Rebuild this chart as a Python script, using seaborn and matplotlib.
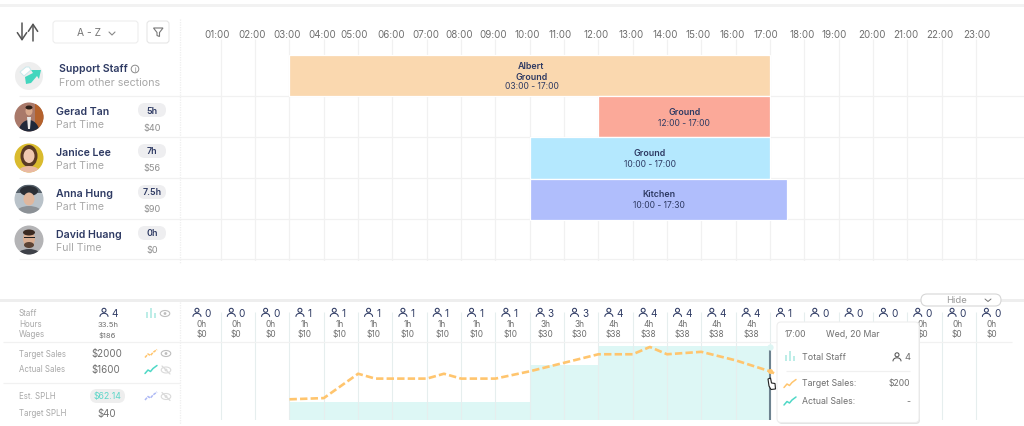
import numpy as np
import pandas as pd
import seaborn as sns
import matplotlib.pyplot as plt
from matplotlib.patches import Circle, Ellipse, FancyBboxPatch, Polygon, Rectangle
from matplotlib.transforms import ScaledTranslation, blended_transform_factory

sns.set_theme(style='white')
plt.rcParams['font.family'] = ['Inter', 'DejaVu Sans']

hour_labels = ['%02d:00' % h for h in range(1, 24)]
hours = list(range(1, 24))

# shifts
shift_rows = [0, 1, 2, 3]
shift_start = [3, 12, 10, 10]
shift_end = [17, 17, 17, 17.5]
shift_colors = ['#FAD8AF', '#FBA999', '#B4E8FE', '#B0BEFC']
shift_titles = ['Albert\nGround', 'Ground', 'Ground', 'Kitchen']
shift_times = ['03:00 - 17:00', '12:00 - 17:00', '10:00 - 17:00', '10:00 - 17:30']

names = ['Gerad Tan', 'Janice Lee', 'Anna Hung', 'David Huang']
contracts = ['Part Time', 'Part Time', 'Part Time', 'Full Time']
staff_hours = ['5h', '7h', '7.5h', '0h']
staff_wages = ['$40', '$56', '$90', '$0']

# per hour table at the bottom
col_staff = [0, 0, 0, 1, 1, 1, 1, 1, 1, 1, 3, 3, 4, 4, 4, 4, 4, 1, 0, 0, 0, 0, 0, 0]
col_hours = ['0h', '0h', '0h', '1h', '1h', '1h', '1h', '1h', '1h', '1h', '3h', '3h',
             '4h', '4h', '4h', '4h', '4h', '', '', '', '', '0h', '0h', '0h']
col_wages = ['$0', '$0', '$0', '$10', '$10', '$10', '$10', '$10', '$10', '$10', '$30', '$30',
             '$38', '$38', '$38', '$38', '$38', '', '', '', '', '$0', '$0', '$0']

# target sales line
target_hour = [3, 4, 5, 5.5, 6, 7, 7.5, 8, 9, 10, 11, 12, 13, 13.5, 14, 15, 16, 17, 17.15]
target_sales = [85, 90, 190, 170, 170, 170, 190, 170, 170, 200, 235, 270, 270, 300, 270, 280, 245, 200, 190]

NAVY = '#2E3A63'
GREY = '#A8A8A8'
MID = '#6F6F6F'
TEAL = '#4FD8C6'
ORANGE = '#FFC56E'
GRID = '#F1F1F1'

W, H = 1024, 427
fig = plt.figure(figsize=(W / 100, H / 100), dpi=100, facecolor='white')


def add_axes_px(x0, y0, x1, y1):
    return fig.add_axes([x0 / W, 1 - y1 / H, (x1 - x0) / W, (y1 - y0) / H])


x_lim = (-0.19, 24.4)

# schedule
ax = add_axes_px(180, 40, 1024, 262)
ax.barh(shift_rows, np.array(shift_end) - np.array(shift_start), left=shift_start, height=1.0,
        color=shift_colors, edgecolor='white', linewidth=0.9, zorder=3)
ax.set_xlim(x_lim)
ax.set_ylim(4.51, -0.9)
ax.set_xticks(hours, hour_labels, fontsize=7, color=MID)
ax.xaxis.tick_top()
ax.tick_params(axis='x', length=0, pad=0)
label_nudge = [-4, -3, -2.5, -2, -4, -1.5, -1, -2, -2.4, -2.7, -4, -2.4, -1.7, -2, -3.3, -3.6,
               -4, -2, -4.6, -1, -1, -1.5, 1]
for lab, dx in zip(ax.get_xticklabels(), label_nudge):
    lab.set_transform(lab.get_transform() + ScaledTranslation(dx / 100, 0, fig.dpi_scale_trans))
ax.set_yticks([])
ax.vlines(hours, 0, 1, transform=ax.get_xaxis_transform(), color=GRID, lw=0.9, zorder=1)
ax.hlines([0.49, 1.49, 2.49, 3.49, 4.47], 0, 1, transform=ax.get_yaxis_transform(), color=GRID, lw=0.9, zorder=1)
sns.despine(ax=ax, left=True, bottom=True, top=True, right=True)

for row, s, e, title, times in zip(shift_rows, shift_start, shift_end, shift_titles, shift_times):
    mid = (s + e) / 2 + (0.05 if row == 0 else 0)
    if row == 0:
        ax.text(mid, row - 0.12, title, ha='center', va='center', fontsize=6.4, fontweight='semibold',
                color=NAVY, zorder=4, linespacing=1.15)
        ax.text(mid, row + 0.24, times, ha='center', va='center', fontsize=6.1, color=NAVY, zorder=4)
    else:
        ax.text(mid, row - 0.14, title, ha='center', va='center', fontsize=6.4, fontweight='semibold',
                color=NAVY, zorder=4)
        ax.text(mid, row + 0.14, times, ha='center', va='center', fontsize=6.1, color=NAVY, zorder=4)

# bottom chart, base of both scales sits at pixel row 421
ax_staff = add_axes_px(180, 313, 1024, 421)
sns.barplot(x=np.arange(17) + 0.5, y=np.array(col_staff[:17]), native_scale=True, orient='x', width=1,
            color='#DDF7F5', saturation=1, linewidth=0, ax=ax_staff, zorder=1)
ax_staff.set_xlim(x_lim)
ax_staff.set_ylim(0, 5.87)
ax_staff.set(xlabel='', ylabel='', xticks=[], yticks=[])
ax_staff.vlines(hours, 0, 1, transform=ax_staff.get_xaxis_transform(), color='#E6EEEE', lw=0.8, zorder=2)
sns.despine(ax=ax_staff, left=True, bottom=True, top=True, right=True)

ax_sales = ax_staff.twinx()
sns.lineplot(x=target_hour, y=target_sales, ax=ax_sales, color=ORANGE, lw=1.9,
             linestyle=(0, (2.8, 1.2)), errorbar=None, sort=False, zorder=3)
ax_sales.set_xlim(x_lim)
ax_sales.set_ylim(0, 443.6)
ax_sales.set(xlabel='', ylabel='', yticks=[])
sns.despine(ax=ax_sales, left=True, bottom=True, top=True, right=True)

# everything else is drawn in pixel space on top
ov = fig.add_axes([0, 0, 1, 1], zorder=10)
ov.set_xlim(0, W)
ov.set_ylim(H, 0)
ov.axis('off')
col_tr = blended_transform_factory(ax_staff.transData, ov.transData)


def txt(x, y, s, size=7, color=MID, ha='left', weight='normal', **kw):
    return ov.text(x, y, s, fontsize=size, color=color, ha=ha, va='center', fontweight=weight, **kw)


def hline(y, x0=0, x1=W, color=GRID, lw=0.9, z=2):
    ov.plot([x0, x1], [y, y], color=color, lw=lw, solid_capstyle='butt', zorder=z)


def pill(x0, y0, x1, y1, color, edge='none', lw=0.8, z=2, r=None):
    rad = (y1 - y0) / 2 if r is None else r
    p = FancyBboxPatch((x0 + rad, y0 + rad), x1 - x0 - 2 * rad, y1 - y0 - 2 * rad,
                       boxstyle='round,pad=%f' % rad, fc=color, ec=edge, lw=lw, zorder=z)
    ov.add_patch(p)
    return p


def person_px(cx, cy, color=NAVY, z=3):
    # head and open shoulders
    ov.add_patch(Circle((cx, cy - 2.2), 2.0, fc='none', ec=color, lw=0.75, zorder=z))
    t = np.linspace(np.pi, 2 * np.pi, 20)
    ov.plot(cx + 4 * np.cos(t), cy + 4 + 3.2 * np.sin(t), color=color, lw=0.75, zorder=z)


def eye(cx, cy, crossed=False, z=3):
    col = '#DADADA' if crossed else '#BDBDBD'
    ov.add_patch(Ellipse((cx, cy), 9.5, 6, fc='none', ec=col, lw=0.8, zorder=z))
    ov.add_patch(Circle((cx, cy), 1.4, fc=col, ec='none', zorder=z))
    if crossed:
        ov.plot([cx - 4, cx + 4], [cy - 4, cy + 4], color=col, lw=0.9, zorder=z)


def spark(cx, cy, color, z=3, lw=1.1, dashed=False):
    xs = np.array([-6, -3, -0.5, 2, 6]) + cx
    ys = np.array([4, 0.5, 2, -1, -4]) + cy
    ov.plot(xs, ys, color=color, lw=lw, zorder=z, ls=(0, (2, 0.6)) if dashed else '-')


def bars_icon(cx, cy, z=3):
    for dx, h in zip([-4, 0, 4], [6, 10, 5]):
        ov.add_patch(Rectangle((cx + dx - 1.4, cy + 5 - h), 2.8, h, fc='#BDEDE7', ec='none', zorder=z))


# page bands
ov.add_patch(Rectangle((0, 5), W, 3, fc='#F2F2F2', ec='none', zorder=1))
ov.add_patch(Rectangle((0, 300), W, 2.6, fc='#EEEEEE', ec='none', zorder=1))
ov.plot([180, 180], [20, 265], color='#EFEFEF', lw=0.9, ls=(0, (1, 1)))
ov.plot([180, 180], [303, 425], color='#EFEFEF', lw=0.9, ls=(0, (1, 1)))

# sort and filter controls
for x, d in [(22, 1), (33, -1)]:
    y0, y1 = (24, 42) if d == 1 else (42, 24)
    ov.annotate('', xy=(x, y1), xytext=(x, y0),
                arrowprops=dict(arrowstyle='->,head_width=0.28,head_length=0.42', color='#555555', lw=1.1,
                                shrinkA=0, shrinkB=0))
pill(53, 22, 138, 44, 'white', edge='#EEEEEE', r=3)
txt(89, 33.5, 'A - Z', 7.4, '#777777', ha='center')
ov.plot([109, 112, 115], [33, 36, 33], color='#888888', lw=0.8, zorder=3)
pill(147, 22, 169, 44, 'white', edge='#E6E6E6', r=3)
ov.add_patch(Polygon([(153.5, 29), (163, 29), (159.5, 33.5), (159.5, 37.5), (157, 36.5), (157, 33.5)],
                     fc='none', ec='#777777', lw=0.8, zorder=3))

# support staff row
ov.add_patch(Circle((29, 77), 14, fc='#EEEEEE', ec='none'))
ov.add_patch(Polygon([(25, 78), (33, 74), (31, 71), (41, 71), (39, 80), (37, 77), (31, 84), (26, 85)],
                     fc='#43D6BE', ec='none', zorder=3))
ov.add_patch(Polygon([(24, 77), (31, 71), (29, 68), (26, 68), (20, 73)], fc='white', ec='#C9E9EC', lw=0.7, zorder=3))
txt(59, 69, 'Support Staff', 7.6, NAVY, weight='semibold')
ov.add_patch(Circle((135, 70), 3.8, fc='none', ec='#8A8A8A', lw=0.7))
txt(135, 70, 'i', 4.5, '#777777', ha='center')
txt(59, 83, 'From other sections', 7.7, GREY)
for y in [97, 138, 179, 220, 260]:
    hline(y, 19, 180)


def avatar(cy, bg, shapes):
    clip = Circle((29, cy), 14.5, transform=ov.transData)
    ov.add_patch(Circle((29, cy), 14.5, fc=bg, ec='none', zorder=2))
    for sh in shapes:
        ov.add_patch(sh)
        sh.set_zorder(3)
        sh.set_clip_path(clip)


name_y = [112, 152.6, 194, 234.6]
sub_y = [125.5, 166, 207, 248]
pill_y = [111, 152, 193, 234]
wage_y = [128, 169, 210, 251]
avatar_y = [118, 159, 200, 241]

avatar(avatar_y[0], '#A9796A', [
    Rectangle((35, 104), 9, 30, fc='#B5622C', ec='none'),
    Ellipse((29, 136), 22, 30, fc='#20283A', ec='none'),
    Polygon([(27, 118), (31, 118), (30, 130), (28, 130)], fc='#E8E8E8', ec='none'),
    Ellipse((29, 112), 7, 9, fc='#D8A88C', ec='none'),
    Ellipse((29, 108.5), 7, 4, fc='#2A1E18', ec='none')])
avatar(avatar_y[1], '#DABB2E', [
    Ellipse((29, 157), 17, 22, fc='#5A3A26', ec='none'),
    Ellipse((29, 175), 24, 16, fc='#E9B9A2', ec='none'),
    Ellipse((29, 157), 11, 14, fc='#F0C8B0', ec='none')])
avatar(avatar_y[2], '#B9C2C9', [
    Rectangle((14, 186), 30, 8, fc='#56616B', ec='none'),
    Ellipse((29, 192), 18, 10, fc='#2B2F36', ec='none'),
    Ellipse((29, 200), 11, 13, fc='#E0B79D', ec='none'),
    Ellipse((29, 214), 26, 14, fc='#8C9196', ec='none')])
avatar(avatar_y[3], '#B4B4B6', [
    Ellipse((29, 258), 26, 16, fc='#3E4148', ec='none'),
    Ellipse((29, 240), 12, 15, fc='#D9AE92', ec='none'),
    Ellipse((29, 233.5), 12, 6, fc='#3B2B22', ec='none'),
    Ellipse((29, 246), 10, 6, fc='#5B4334', ec='none'),
    Rectangle((23.5, 238), 11, 1.2, fc='#222222', ec='none')])

for i in range(4):
    txt(56, name_y[i], names[i], 7.6, NAVY, weight='semibold')
    txt(56, sub_y[i], contracts[i], 7.6, GREY)
    pill(138, pill_y[i] - 7, 166, pill_y[i] + 7, '#EEEEF0')
    txt(152, pill_y[i], staff_hours[i], 6.4, NAVY, ha='center', weight='semibold')
    txt(152, wage_y[i], staff_wages[i], 6.6, '#8E8E8E', ha='center')

# summary block on the left of the bottom chart
hline(343, 3, 1012)
hline(384, 3, 180)
txt(19, 313.5, 'Staff', 5.8, GREY)
txt(19, 324.5, 'Hours', 5.8, GREY)
txt(19, 334.5, 'Wages', 5.8, GREY)
person_px(104, 313.5)
txt(111, 314, '4', 7.2, NAVY)
txt(108, 325, '33.5h', 5.6, MID, ha='center')
txt(107, 335, '$186', 5.4, MID, ha='center')
bars_icon(151, 314)
eye(165, 314.5)
txt(19, 354.5, 'Target Sales', 5.7, GREY)
txt(107, 354.5, '$2000', 7, MID, ha='center')
spark(151, 354.5, ORANGE, dashed=True)
eye(166, 354.5)
txt(19, 370, 'Actual Sales', 5.7, GREY)
txt(106, 370, '$1600', 7, MID, ha='center')
spark(151, 370.5, TEAL)
eye(166, 371, crossed=True)
txt(19, 397, 'Est. SPLH', 5.7, GREY)
pill(90, 390, 125, 404, '#EEEEEE')
txt(107, 397, '$62.14', 6.3, '#5CD6C8', ha='center')
spark(151, 397, '#AEB9F5', dashed=True)
eye(166, 397.5, crossed=True)
txt(19, 414, 'Target SPLH', 5.7, GREY)
txt(107, 414, '$40', 7, MID, ha='center')

# per hour columns, icon sits in pixels next to the column centre
for i, (n, h, w) in enumerate(zip(col_staff, col_hours, col_wages)):
    cx = ax_staff.transData.transform((i + 0.45, 0))[0]
    person_px(cx - 5, 313.5, z=2)
    txt(cx + 2.5, 314, str(n), 7.2, NAVY, zorder=2)
    ov.text(i + 0.45, 325, h, transform=col_tr, fontsize=6, color=MID, ha='center', va='center', zorder=2)
    ov.text(i + 0.45, 335, w, transform=col_tr, fontsize=6, color=MID, ha='center', va='center', zorder=2)

# hover marker at 17:00
ax_sales.plot([17, 17], [0, 300], color='#6E8390', lw=1.5, zorder=4)
ax_sales.plot([17], [300], 'o', ms=4.5, mfc='#DDF5F3', mec='none', zorder=4)
ax_sales.plot([17], [200], 'o', ms=3.6, mfc=ORANGE, mec='none', zorder=5)

# hide button
pill(921, 295, 1001, 307, 'white', edge='#D6D6D6', z=4)
txt(946, 301, 'Hide', 6.8, '#999999', zorder=5)
ov.plot([985, 988, 991], [300, 302.5, 300], color='#777777', lw=0.7, zorder=5)

# tooltip
pill(778, 325, 920, 425, '#E4E4E4', z=5, r=4)
pill(777, 323, 919, 423.5, 'white', edge='#EEEEEE', z=6, r=4)
txt(785, 335, '17:00', 6.2, MID, zorder=7)
txt(826, 335, 'Wed, 20 Mar', 6.3, MID, zorder=7)
bars_icon(790, 357, z=7)
txt(802, 358, 'Total Staff', 6.4, MID, zorder=7)
person_px(897, 358, color='#555555', z=7)
txt(904.5, 358, '4', 6.8, MID, zorder=7)
hline(371.5, 786, 910, color='#F0F0F0', z=7)
spark(790, 384.5, ORANGE, z=7)
txt(802, 384, 'Target Sales:', 6.3, MID, zorder=7)
txt(910, 384, '$200', 6.2, MID, ha='right', zorder=7)
spark(790, 402, TEAL, z=7)
txt(802, 402, 'Actual Sales:', 6.3, MID, zorder=7)
txt(910, 402, '-', 6.3, MID, ha='right', zorder=7)

# hand cursor
ov.add_patch(Polygon([(768, 380), (770.5, 379), (771.5, 384), (775, 384.5), (775.5, 390), (771, 390.5), (769, 387)],
                     fc='white', ec='#222222', lw=0.8, zorder=8))

fig.savefig('out.png', dpi=100)
